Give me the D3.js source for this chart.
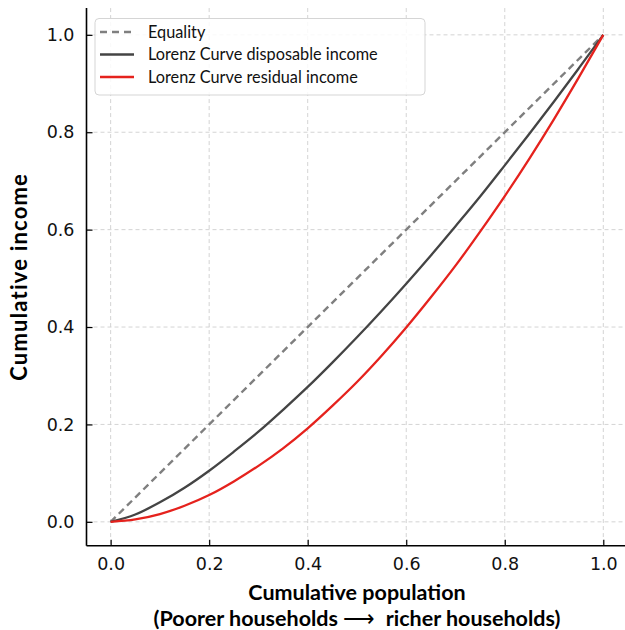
<!DOCTYPE html>
<html>
<head>
<meta charset="utf-8">
<script src="https://cdn.jsdelivr.net/npm/d3@7"></script>
<style>
  html, body { margin: 0; padding: 0; background: #fff; }
  svg { display: block; }
  text { white-space: pre; }
</style>
</head>
<body>
<svg id="chart" width="625" height="630"></svg>
<script>
// ---- data ----
const population = [0, 0.05, 0.1, 0.15, 0.2, 0.25, 0.3, 0.35, 0.4, 0.45, 0.5, 0.55, 0.6, 0.65, 0.7, 0.75, 0.8, 0.85, 0.9, 0.95, 1.0];
const disposableIncome = [0, 0.015, 0.040, 0.070, 0.105, 0.144, 0.185, 0.230, 0.277, 0.327, 0.379, 0.433, 0.489, 0.547, 0.607, 0.668, 0.732, 0.797, 0.863, 0.931, 1.0];
const residualIncome = [0, 0.005, 0.016, 0.033, 0.055, 0.083, 0.115, 0.151, 0.192, 0.238, 0.287, 0.341, 0.399, 0.461, 0.526, 0.596, 0.669, 0.746, 0.827, 0.912, 1.0];
const equalityX = [0, 1];
const equalityY = [0, 1];
const tickValues = [0.0, 0.2, 0.4, 0.6, 0.8, 1.0];
const legendLabels = ["Equality", "Lorenz Curve disposable income", "Lorenz Curve residual income"];
const xTitle1 = "Cumulative population";
const xTitle2 = ["(Poorer households ", "\u27F6", "  richer households)"];
const yTitle = "Cumulative income";

(function () {
// ---- layout ----
const svg = d3.select("#chart");
const x = d3.scaleLinear().domain([-0.049, 1.05]).range([86.5, 110.7 + 1.05 * 492.6]);
const y = d3.scaleLinear().domain([-0.049, 1.055]).range([545.7, 545.7 - 1.104 * 487]);

const pLeft = x.range()[0], pRight = 625, pBottom = y.range()[0], pTop = y(1.055);

// grid
const grid = svg.append("g");
grid.selectAll("line.v").data(tickValues).enter().append("line")
  .attr("x1", d => x(d)).attr("x2", d => x(d))
  .attr("y1", pTop).attr("y2", pBottom)
  .attr("stroke", "#cfcfcf").attr("stroke-width", 0.9).attr("stroke-dasharray", "4,3");
grid.selectAll("line.h").data(tickValues).enter().append("line")
  .attr("x1", pLeft).attr("x2", pRight)
  .attr("y1", d => y(d)).attr("y2", d => y(d))
  .attr("stroke", "#cfcfcf").attr("stroke-width", 0.9).attr("stroke-dasharray", "4,3");

// lines
const line = d3.line().x(d => x(d[0])).y(d => y(d[1])).curve(d3.curveMonotoneX);
svg.append("path")
  .datum(equalityX.map((v, i) => [v, equalityY[i]]))
  .attr("d", line).attr("fill", "none")
  .attr("stroke", "#7f7f7f").attr("stroke-width", 2.4).attr("stroke-dasharray", "7,4.5");
svg.append("path")
  .datum(population.map((v, i) => [v, disposableIncome[i]]))
  .attr("d", line).attr("fill", "none")
  .attr("stroke", "#444444").attr("stroke-width", 2.3);
svg.append("path")
  .datum(population.map((v, i) => [v, residualIncome[i]]))
  .attr("d", line).attr("fill", "none")
  .attr("stroke", "#e5221d").attr("stroke-width", 2.3);

// axes
const xAxis = d3.axisBottom(x).tickValues(tickValues).tickFormat(d3.format(".1f")).tickSizeInner(-6).tickSizeOuter(0).tickPadding(12);
const yAxis = d3.axisLeft(y).tickValues(tickValues).tickFormat(d3.format(".1f")).tickSizeInner(-6).tickSizeOuter(0).tickPadding(12);

const gx = svg.append("g").attr("transform", `translate(0,${pBottom})`).call(xAxis);
gx.select(".domain").attr("d", `M${pLeft},0H${pRight}`).attr("stroke", "#000").attr("stroke-width", 1.6);
const gy = svg.append("g").attr("transform", `translate(${pLeft},0)`).call(yAxis);
gy.select(".domain").attr("d", `M0,${pTop}V${pBottom}`).attr("stroke", "#000").attr("stroke-width", 1.6);

[gx, gy].forEach(g => {
  g.selectAll(".tick line").attr("stroke", "#000").attr("stroke-width", 1.2);
  g.selectAll(".tick text").attr("font-family", "DejaVu Sans").attr("font-size", 17.5).attr("fill", "#111");
});

// titles
svg.append("text").attr("x", 357).attr("y", 600).attr("text-anchor", "middle")
  .attr("font-family", "Lato").attr("font-weight", 700).attr("font-size", 21.5).attr("fill", "#000")
  .text(xTitle1);
const t2 = svg.append("text").attr("x", 357).attr("y", 625.5).attr("text-anchor", "middle")
  .attr("font-family", "Lato").attr("font-weight", 700).attr("font-size", 21.5).attr("fill", "#000");
xTitle2.forEach((s, i) => {
  t2.append("tspan").attr("font-weight", i === 1 ? 400 : 700).text(s);
});
svg.append("text").attr("transform", `translate(27,${(pTop + pBottom) / 2}) rotate(-90)`).attr("text-anchor", "middle")
  .attr("font-family", "Lato").attr("font-weight", 700).attr("font-size", 22).attr("letter-spacing", 1.2).attr("fill", "#000")
  .text(yTitle);

// legend
const legend = svg.append("g");
legend.append("rect").attr("x", 95).attr("y", 18.5).attr("width", 330).attr("height", 76.5)
  .attr("rx", 4).attr("fill", "#fff").attr("fill-opacity", 0.85)
  .attr("stroke", "#d5d5d5").attr("stroke-width", 1);
const legendStyles = [
  { stroke: "#7f7f7f", dash: "7,5" },
  { stroke: "#444444", dash: null },
  { stroke: "#e5221d", dash: null }
];
legendLabels.forEach((lab, i) => {
  const cy = 32 + i * 22.5;
  legend.append("line").attr("x1", 100).attr("x2", 134).attr("y1", cy).attr("y2", cy)
    .attr("stroke", legendStyles[i].stroke).attr("stroke-width", 2.3)
    .attr("stroke-dasharray", legendStyles[i].dash);
  legend.append("text").attr("x", 148).attr("y", cy).attr("dy", "0.35em")
    .attr("font-family", "Lato").attr("font-size", 16.3).attr("fill", "#111")
    .text(lab);
});
})();
</script>
</body>
</html>
